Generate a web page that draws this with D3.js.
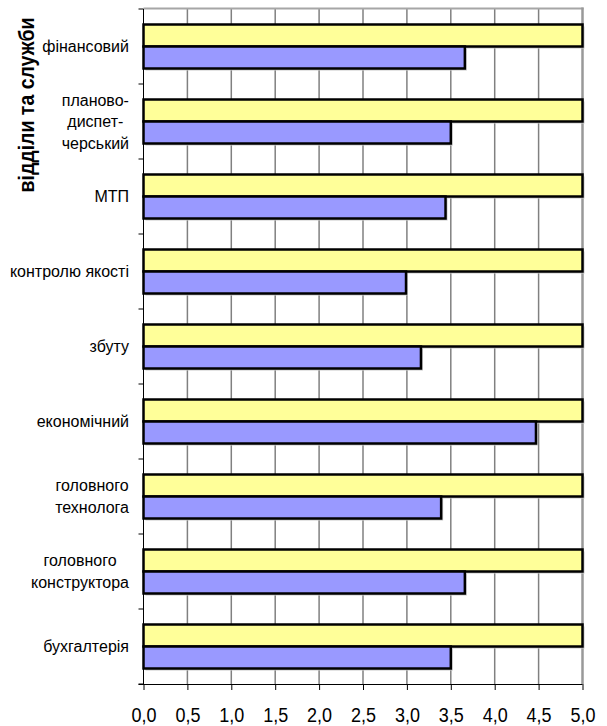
<!DOCTYPE html>
<html>
<head>
<meta charset="utf-8">
<script src="https://cdn.jsdelivr.net/npm/d3@7"></script>
<style>
  html, body { margin: 0; padding: 0; background: #fff; }
  svg { display: block; }
  text { font-family: Arial, "Liberation Sans", sans-serif; fill: #000; }
</style>
</head>
<body>
<svg id="chart" width="607" height="726"></svg>
<script>
// Departments, top to bottom; "\n" splits a label into lines
const departments = [
  "фінансовий",
  "планово-\nдиспет-\nчерський",
  "МТП",
  "контролю якості",
  "збуту",
  "економічний",
  "головного\nтехнолога",
  "головного\nконструктора",
  "бухгалтерія"
];
// Upper (yellow) series – the reference level
const seriesA = [5.0, 5.0, 5.0, 5.0, 5.0, 5.0, 5.0, 5.0, 5.0];
// Lower (blue) series – actual score per department
const seriesB = [3.66, 3.5, 3.44, 2.99, 3.16, 4.47, 3.39, 3.66, 3.5];
const xTicks = [0, 0.5, 1, 1.5, 2, 2.5, 3, 3.5, 4, 4.5, 5];
const axisTitle = "відділи та служби";

const series = [
  { key: "a", values: seriesA, fill: "#FFFF99" },
  { key: "b", values: seriesB, fill: "#9999FF" }
];

const svg = d3.select("#chart");
const plotLeft = 143.5, plotRight = 582.5, plotTop = 9, plotBottom = 684;

const x = d3.scaleLinear().domain([0, 5]).range([plotLeft, plotRight]);
const y = d3.scaleBand().domain(departments).range([plotTop, plotBottom]);
const ySub = d3.scaleBand().domain(series.map(s => s.key))
  .range([15.5, y.bandwidth() - 15.5]);

// Vertical gridlines
svg.append("g")
  .selectAll("line")
  .data(xTicks.filter(t => t > 0 && t < 5))
  .join("line")
  .attr("x1", d => x(d)).attr("x2", d => x(d))
  .attr("y1", plotTop).attr("y2", plotBottom)
  .attr("stroke", "#808080").attr("stroke-width", 1.5);

// Plot frame: top and right edges
svg.append("line")
  .attr("x1", plotLeft).attr("x2", plotRight + 1)
  .attr("y1", plotTop - 0.5).attr("y2", plotTop - 0.5)
  .attr("stroke", "#a6a6a6").attr("stroke-width", 2);
svg.append("line")
  .attr("x1", plotRight).attr("x2", plotRight)
  .attr("y1", plotTop - 1.5).attr("y2", plotBottom)
  .attr("stroke", "#999").attr("stroke-width", 2.5);

// Bars
const groups = svg.append("g")
  .selectAll("g")
  .data(departments)
  .join("g")
  .attr("transform", d => `translate(0,${y(d)})`);

series.forEach(s => {
  // soft shadow under each bar
  groups.append("rect")
    .attr("x", x(0) + 2)
    .attr("y", ySub(s.key) + 2)
    .attr("width", (d, i) => x(s.values[i]) - x(0))
    .attr("height", ySub.bandwidth())
    .attr("fill", "#c8c8c8");
});
series.forEach(s => {
  groups.append("rect")
    .attr("x", x(0))
    .attr("y", ySub(s.key))
    .attr("width", (d, i) => x(s.values[i]) - x(0))
    .attr("height", ySub.bandwidth())
    .attr("fill", s.fill)
    .attr("stroke", "#000")
    .attr("stroke-width", 2.5);
});

// Left axis: line + ticks at category boundaries
const boundaries = departments.map(d => y(d)).concat([plotBottom]);
svg.append("line")
  .attr("x1", plotLeft).attr("x2", plotLeft)
  .attr("y1", plotTop).attr("y2", plotBottom)
  .attr("stroke", "#000").attr("stroke-width", 1);
svg.append("g").selectAll("line")
  .data(boundaries)
  .join("line")
  .attr("x1", plotLeft - 5).attr("x2", plotLeft)
  .attr("y1", d => d).attr("y2", d => d)
  .attr("stroke", "#000").attr("stroke-width", 1);

// Bottom axis
const xAxis = d3.axisBottom(x)
  .tickValues(xTicks)
  .tickSize(6)
  .tickSizeOuter(0)
  .tickFormat(d => d3.format(".1f")(d).replace(".", ","));
const gx = svg.append("g")
  .attr("transform", `translate(0,${plotBottom})`)
  .call(xAxis);
gx.select(".domain").attr("stroke", "#000").attr("d", `M${plotLeft - 5},0.5H${plotRight}`);
gx.selectAll(".tick line").attr("stroke", "#000");
gx.selectAll(".tick text")
  .attr("y", 0).attr("dy", 0)
  .attr("transform", "translate(0,37.5) scale(1,1.1)")
  .style("font-size", "18px")
  .style("font-family", "Arial, 'Liberation Sans', sans-serif")
  .attr("fill", "#000");

// Category labels (multi-line labels are centred within their block)
const labelRight = 129;
const lineH = 21.5;
const labels = svg.append("g").selectAll("text")
  .data(departments)
  .join("text")
  .style("font-size", "16px")
  .attr("text-anchor", "middle");
labels.each(function (d) {
  const lines = d.split("\n");
  const t = d3.select(this);
  const cy = y(d) + y.bandwidth() / 2;
  lines.forEach((ln, i) => {
    t.append("tspan")
      .attr("y", cy + 5.5 + (i - (lines.length - 1) / 2) * lineH)
      .text(ln);
  });
  let w = 0;
  t.selectAll("tspan").each(function () { w = Math.max(w, this.getComputedTextLength()); });
  t.selectAll("tspan").attr("x", labelRight - w / 2);
});

// Axis title
svg.append("text")
  .attr("transform", "translate(34,105) rotate(-90) scale(1,1.12)")
  .attr("text-anchor", "middle")
  .style("font-size", "19.5px")
  .style("font-weight", "bold")
  .text(axisTitle);
</script>
</body>
</html>
